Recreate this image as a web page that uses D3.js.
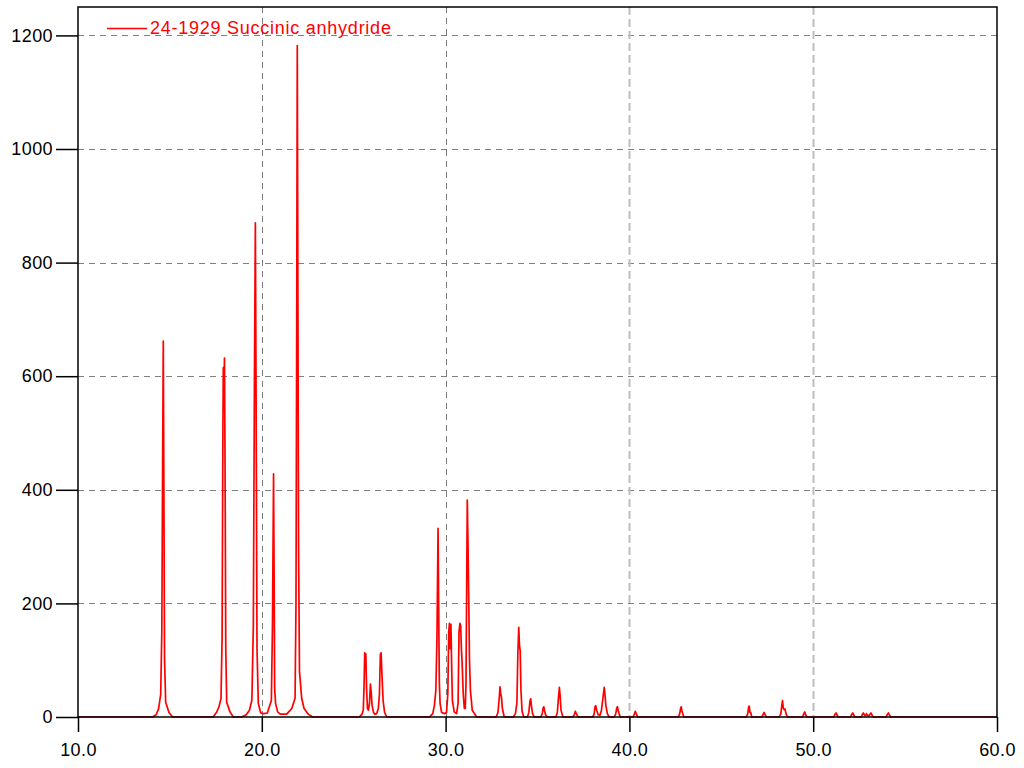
<!DOCTYPE html>
<html>
<head>
<meta charset="utf-8">
<script src="https://cdn.jsdelivr.net/npm/d3@7"></script>
<style>
  html, body { margin: 0; padding: 0; background: #fff; }
  svg { display: block; }
  text { font-family: Arial, "Liberation Sans", sans-serif; }
</style>
</head>
<body>
<svg id="chart" width="1024" height="768"></svg>
<script>
// ---- Data ----
const seriesName = "24-1929 Succinic anhydride";
const xTicks = [10, 20, 30, 40, 50, 60];
const yTicks = [0, 200, 400, 600, 800, 1000, 1200];
const xDomain = [10, 60];
const yDomain = [0, 1250];

// [2θ, intensity] points of the trace
const lowAnglePeaks = [
  [10.00,0],
  [14.05,0],[14.25,4],[14.38,14],[14.50,40],[14.56,150],[14.60,420],[14.64,662],[14.67,420],[14.71,100],[14.77,26],[14.95,8],[15.15,0],
  [17.35,0],[17.55,9],[17.67,18],[17.78,32],[17.84,140],[17.88,480],[17.905,615],[17.93,560],[17.97,632],[18.00,450],[18.04,120],[18.09,26],[18.27,9],[18.45,0],
  [18.90,0],[19.15,4],[19.33,12],[19.46,30],[19.54,160],[19.60,600],[19.65,870],[19.69,560],[19.74,120],[19.81,24],[19.94,7],[20.10,6],[20.30,7],
  [20.41,18],[20.52,29],[20.58,160],[20.64,428],[20.67,250],[20.70,50],[20.75,24],[20.86,9],[21.00,5],[21.35,5],
  [21.63,15],[21.81,33],[21.86,200],[21.90,700],[21.93,1182],[21.96,800],[22.00,300],[22.05,80],[22.17,33],[22.30,15],[22.53,5],[22.77,0]
];
const midAnglePeaks = [
  [25.30,0],[25.45,5],[25.52,12],[25.56,50],[25.60,113],[25.63,100],[25.66,111],[25.70,50],[25.75,15],[25.80,12],[25.86,25],[25.91,58],[25.95,45],[26.00,20],[26.08,8],[26.15,5],[26.25,6],[26.34,15],[26.40,40],[26.45,110],[26.49,113],[26.53,80],[26.60,29],[26.68,8],[26.80,0],
  [29.12,0],[29.30,6],[29.39,20],[29.47,47],[29.53,140],[29.59,332],[29.63,165],[29.66,60],[29.70,24],[29.78,8],[29.95,6],[30.05,8],[30.12,40],[30.17,150],[30.21,165],[30.25,120],[30.29,163],[30.33,90],[30.37,29],[30.47,9],[30.60,6],
  [30.68,25],[30.73,150],[30.78,165],[30.82,160],[30.86,120],[30.90,94],[30.96,40],[31.02,15],[31.07,15],[31.11,60],[31.18,382],[31.22,300],[31.26,205],[31.30,100],[31.35,47],[31.45,12],[31.69,0]
];
const highAnglePeaks = [
  [32.75,0],[32.85,8],[32.91,30],[32.96,53],[33.00,40],[33.04,35],[33.09,15],[33.19,0],
  [33.68,0],[33.80,6],[33.88,25],[33.93,110],[33.98,158],[34.02,125],[34.06,117],[34.10,47],[34.16,10],[34.25,0],
  [34.45,0],[34.53,8],[34.59,28],[34.63,32],[34.67,20],[34.73,6],[34.82,0],
  [35.18,0],[35.26,6],[35.31,16],[35.34,18],[35.38,12],[35.44,4],[35.52,0],
  [36.00,0],[36.08,8],[36.13,30],[36.19,52],[36.23,38],[36.28,12],[36.38,0],
  [36.92,0],[37.00,4],[37.06,10],[37.11,6],[37.20,0],
  [38.00,0],[38.08,5],[38.13,18],[38.17,20],[38.22,12],[38.30,4],[38.40,3],[38.48,12],[38.55,30],[38.63,52],[38.67,40],[38.72,20],[38.80,6],[38.90,0],
  [39.18,0],[39.26,6],[39.31,16],[39.35,18],[39.40,10],[39.50,0],
  [40.20,0],[40.27,5],[40.32,10],[40.37,6],[40.45,0],
  [42.66,0],[42.74,6],[42.79,16],[42.82,18],[42.86,10],[42.96,0],
  [46.36,0],[46.44,6],[46.49,18],[46.52,19],[46.56,8],[46.60,8],[46.66,0],
  [47.20,0],[47.27,4],[47.32,8],[47.37,5],[47.45,0],
  [48.15,0],[48.24,6],[48.29,20],[48.33,29],[48.37,16],[48.42,13],[48.47,14],[48.52,6],[48.60,0],
  [49.42,0],[49.49,6],[49.54,9],[49.59,4],[49.66,0],
  [51.12,0],[51.19,5],[51.24,7],[51.29,4],[51.36,0],
  [52.03,0],[52.10,5],[52.15,7],[52.20,4],[52.27,0],
  [52.62,0],[52.68,5],[52.73,7],[52.78,4],[52.84,2],[52.90,6],[52.95,3],[53.02,2],[53.09,5],[53.14,7],[53.19,4],[53.26,0],
  [53.97,0],[54.04,5],[54.09,7],[54.14,4],[54.22,0],
  [60.00,0]
];

// ---- Layout ----
const W = 1024, H = 768;
const margin = {left: 78, top: 7, right: 27, bottom: 51};
const iw = W - margin.left - margin.right;
const ih = H - margin.top - margin.bottom;

const svg = d3.select("#chart");
const g = svg.append("g").attr("transform", `translate(${margin.left},${margin.top})`);

const x = d3.scaleLinear().domain(xDomain).range([0, iw]);
const y = d3.scaleLinear().domain(yDomain).range([ih, 0]);

// Horizontal grid
g.append("g").selectAll("line")
  .data(yTicks.filter(v => v > 0))
  .join("line")
  .attr("x1", 0).attr("x2", iw)
  .attr("y1", d => Math.round(y(d)) + 0.5).attr("y2", d => Math.round(y(d)) + 0.5)
  .attr("stroke", "#808080").attr("stroke-width", 1)
  .attr("stroke-dasharray", "6,5");

// Vertical grid
g.append("g").selectAll("line")
  .data(xTicks.filter(v => v > xDomain[0] && v < xDomain[1]))
  .join("line")
  .attr("x1", d => Math.round(x(d)) + 0.5).attr("x2", d => Math.round(x(d)) + 0.5)
  .attr("y1", 0).attr("y2", ih)
  .attr("stroke", d => d >= 40 ? "#bdbdbd" : "#7a7a7a")
  .attr("stroke-width", d => d >= 40 ? 2 : 1)
  .attr("stroke-dasharray", d => d >= 40 ? "8,4" : "6,5");

// Trace
const pattern = lowAnglePeaks.concat(midAnglePeaks, highAnglePeaks);
const line = d3.line().x(d => x(d[0])).y(d => y(d[1]));
g.append("path")
  .datum(pattern)
  .attr("fill", "none")
  .attr("stroke", "#ff0000")
  .attr("stroke-width", 1.7)
  .attr("stroke-linejoin", "round")
  .attr("d", line);

// Frame
g.append("rect")
  .attr("x", 0).attr("y", 0).attr("width", iw).attr("height", ih)
  .attr("fill", "none").attr("stroke", "#000").attr("stroke-width", 1.5);

// Axes
const xAxis = d3.axisBottom(x).tickValues(xTicks).tickFormat(d3.format(".1f")).tickSize(15).tickPadding(11);
const gx = g.append("g").attr("transform", `translate(0,${ih})`).call(xAxis);
gx.select(".domain").remove();
gx.selectAll("line").attr("stroke", "#000").attr("stroke-width", 1.5);
gx.selectAll("text").attr("font-size", 18).attr("fill", "#000")
  .attr("letter-spacing", "0.4px")
  .attr("font-family", "Arial, 'Liberation Sans', sans-serif");

const yAxis = d3.axisLeft(y).tickValues(yTicks).tickFormat(d3.format("d")).tickSize(22).tickPadding(3);
const gy = g.append("g").call(yAxis);
gy.select(".domain").remove();
gy.selectAll("line").attr("stroke", "#000").attr("stroke-width", 1.5);
gy.selectAll("text").attr("font-size", 18).attr("fill", "#000")
  .attr("letter-spacing", "0.4px")
  .attr("font-family", "Arial, 'Liberation Sans', sans-serif");

// Legend
const lg = svg.append("g");
lg.append("line").attr("x1", 107).attr("x2", 147).attr("y1", 28.5).attr("y2", 28.5)
  .attr("stroke", "#ff0000").attr("stroke-width", 1.5);
lg.append("text").attr("x", 150).attr("y", 33.5)
  .attr("font-size", 18).attr("fill", "#ff0000")
  .attr("letter-spacing", "0.75px")
  .text(seriesName);
</script>
</body>
</html>
